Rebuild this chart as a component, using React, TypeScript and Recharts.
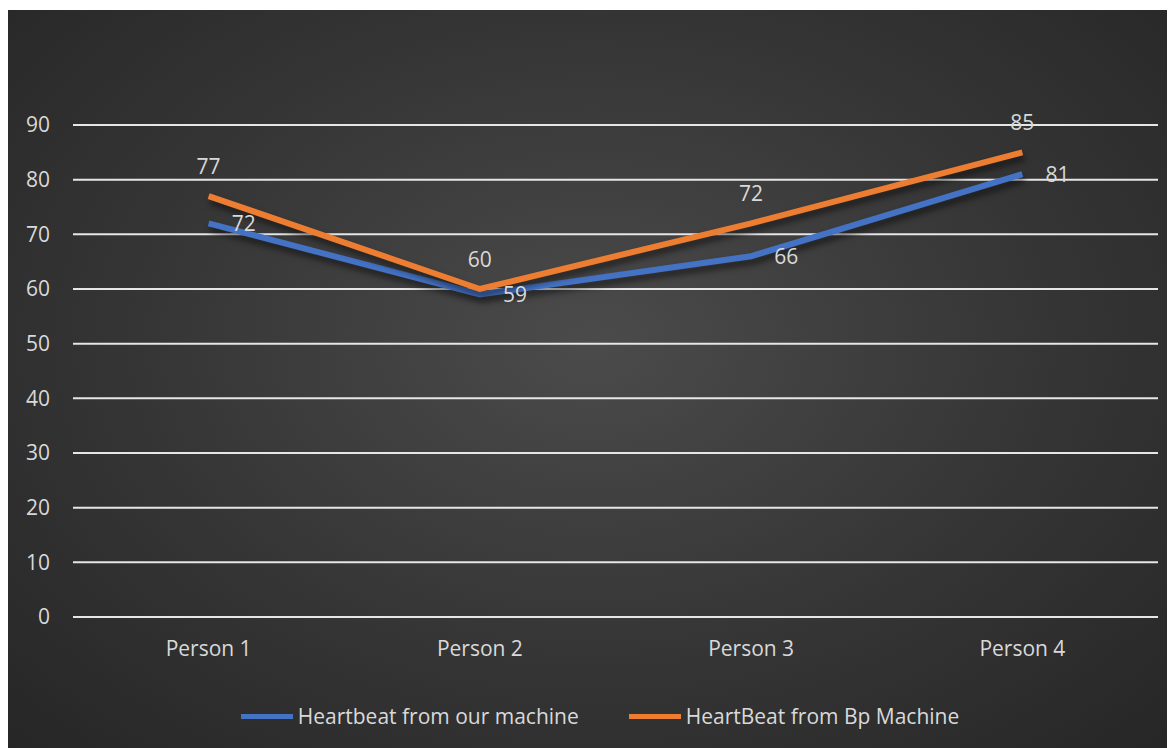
import React from 'react';
import { LineChart, Line, XAxis, YAxis, CartesianGrid, Legend, LabelList } from 'recharts';

const people = ['Person 1', 'Person 2', 'Person 3', 'Person 4'];
const ourMachine = [72, 59, 66, 81];
const bpMachine = [77, 60, 72, 85];
const yTicks = [0, 10, 20, 30, 40, 50, 60, 70, 80, 90];
const seriesOrder = ['ours', 'bp'];

const data = people.map((name, i) => ({
    name,
    ours: ourMachine[i],
    bp: bpMachine[i],
}));

const TEXT = '#d9d9d9';
const FONT = '"Open Sans", sans-serif';

const renderLegend = (props: any) => {
    const items = [...(props.payload || [])].sort(
        (a: any, b: any) => seriesOrder.indexOf(a.dataKey) - seriesOrder.indexOf(b.dataKey)
    );
    return (
        <div style={{ display: 'flex', justifyContent: 'center', alignItems: 'center', height: 30, paddingLeft: 34 }}>
            {items.map((entry: any, i: number) => (
                <div key={`leg-${i}`} style={{ display: 'flex', alignItems: 'center', marginRight: i === 0 ? 50 : 0 }}>
                    <span style={{ display: 'inline-block', width: 52, height: 5, background: entry.color, marginRight: 5 }} />
                    <span style={{ color: TEXT, fontFamily: FONT, fontSize: 21 }}>{entry.value}</span>
                </div>
            ))}
        </div>
    );
};

export default function App() {
    return (
        <div
            style={{
                marginTop: 2,
                width: 1167,
                height: 740,
                background: 'radial-gradient(ellipse at 50% 45%, #4b4b4b 0%, #353535 55%, #262626 100%)',
            }}
        >
            <style>{`.recharts-line-curve { filter: drop-shadow(2px 5px 3px rgba(0,0,0,0.55)); }`}</style>
            <LineChart width={1167} height={740} data={data} margin={{ top: 115, right: 17, bottom: 73, left: 0 }}>
                <CartesianGrid vertical={false} stroke="#e6e6e6" strokeWidth={2} />
                <XAxis
                    dataKey="name"
                    scale="band"
                    axisLine={false}
                    tickLine={false}
                    tickMargin={18}
                    height={30}
                    tick={{ fill: TEXT, fontSize: 21, fontFamily: FONT }}
                />
                <YAxis
                    width={65}
                    domain={[0, 90]}
                    ticks={yTicks}
                    axisLine={false}
                    tickLine={false}
                    tickMargin={17}
                    tick={{ fill: TEXT, fontSize: 21, fontFamily: FONT }}
                />
                <Legend verticalAlign="bottom" content={renderLegend} wrapperStyle={{ bottom: 19 }} />
                <Line
                    type="linear"
                    dataKey="ours"
                    name="Heartbeat from our machine"
                    stroke="#4472c4"
                    strokeWidth={6}
                    dot={false}
                    isAnimationActive={false}
                >
                    <LabelList dataKey="ours" position="right" offset={23} fill={TEXT} fontSize={21} fontFamily={FONT} />
                </Line>
                <Line
                    type="linear"
                    dataKey="bp"
                    name="HeartBeat from Bp Machine"
                    stroke="#ed7d31"
                    strokeWidth={6}
                    dot={false}
                    isAnimationActive={false}
                >
                    <LabelList dataKey="bp" position="top" offset={22} fill={TEXT} fontSize={21} fontFamily={FONT} />
                </Line>
            </LineChart>
        </div>
    );
}
